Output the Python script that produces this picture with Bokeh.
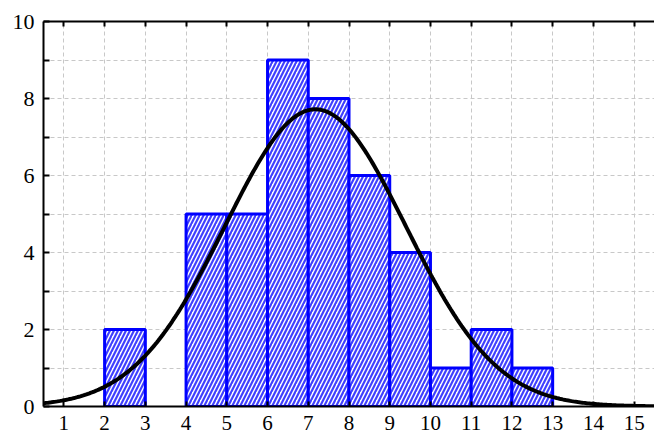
import numpy as np
from bokeh.plotting import figure
from bokeh.models import FixedTicker, LinearAxis, Range1d
from bokeh.embed import file_html
from bokeh.resources import INLINE

# Histogram bins (unit width) and their counts
bin_left = [2, 4, 5, 6, 7, 8, 9, 10, 11, 12]
bin_right = [3, 5, 6, 7, 8, 9, 10, 11, 12, 13]
counts = [2, 5, 5, 9, 8, 6, 4, 1, 2, 1]
x_ticks = list(range(1, 16))
y_ticks = [0, 2, 4, 6, 8, 10]

# Fitted normal curve, scaled to the histogram counts
mids = (np.array(bin_left) + np.array(bin_right)) / 2.0
freq = np.array(counts, dtype=float)
n = freq.sum()
mean = (mids * freq).sum() / n
sd = np.sqrt(((mids - mean) ** 2 * freq).sum() / (n - 1))
width = 1.0
xs = np.linspace(0.5, 15.5, 400)
ys = n * width / (sd * np.sqrt(2 * np.pi)) * np.exp(-0.5 * ((xs - mean) / sd) ** 2)

FONT = "Liberation Serif"

p = figure(width=654, height=439, frame_width=611, frame_height=385,
           output_backend="svg", toolbar_location=None,
           x_range=Range1d(0.5, 15.5), y_range=Range1d(0, 10),
           min_border_left=43, min_border_right=0, min_border_top=21,
           min_border_bottom=33, x_axis_location="below")
p.outline_line_color = None
p.background_fill_color = "white"

p.quad(left=bin_left, right=bin_right, bottom=0, top=counts,
       fill_color="white", line_color="#0000ff", line_width=3,
       hatch_pattern="right_diagonal_line", hatch_color="#4040ff",
       hatch_scale=8, hatch_weight=2.2)

p.line(xs, ys, line_color="black", line_width=4)

# Grid: dashed at every integer in both directions
p.xgrid.ticker = FixedTicker(ticks=x_ticks)
p.ygrid.ticker = FixedTicker(ticks=list(range(0, 11)))
for g in (p.xgrid, p.ygrid):
    g.grid_line_color = "#c8c8c8"
    g.grid_line_dash = "4 3"
    g.grid_line_width = 1

# Bottom axis
xa = p.xaxis[0]
xa.ticker = FixedTicker(ticks=x_ticks)
xa.axis_line_width = 2
xa.axis_line_color = "black"
xa.major_tick_in = 5
xa.major_tick_out = 0
xa.major_tick_line_width = 2
xa.minor_tick_line_color = None
xa.major_label_text_font = FONT
xa.major_label_text_font_size = "21px"
xa.major_label_text_color = "black"
xa.major_label_standoff = 9

# Left axis: labelled every 2, minor ticks in between
ya = p.yaxis[0]
ya.ticker = FixedTicker(ticks=y_ticks, minor_ticks=[1, 3, 5, 7, 9])
ya.axis_line_width = 2
ya.axis_line_color = "black"
ya.major_tick_in = 6
ya.major_tick_out = 0
ya.major_tick_line_width = 2
ya.minor_tick_in = 6
ya.minor_tick_out = 0
ya.minor_tick_line_width = 2
ya.major_label_text_font = FONT
ya.major_label_text_font_size = "22px"
ya.major_label_text_color = "black"
ya.major_label_standoff = 9

# Top frame line with inward ticks, no labels
top = LinearAxis(ticker=FixedTicker(ticks=x_ticks))
top.axis_line_width = 2
top.axis_line_color = "black"
top.major_tick_in = 5
top.major_tick_out = 0
top.major_tick_line_width = 2
top.minor_tick_line_color = None
top.major_label_text_font_size = "0px"
top.major_label_text_color = None
top.major_label_standoff = 0
p.add_layout(top, "above")

open("out.html", "w").write(file_html(p, INLINE))
